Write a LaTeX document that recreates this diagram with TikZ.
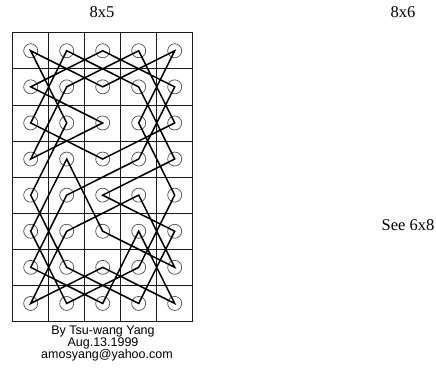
\documentclass[tikz,border=0pt]{standalone}
\usepackage{fontspec}
\setmainfont{Liberation Serif}
\newfontfamily\credfont{Liberation Sans}
\usetikzlibrary{positioning}

\begin{document}
\begin{tikzpicture}[
  x=1pt, y=-1pt,
  cell/.style={draw=black!90, line width=0.8pt, minimum width=36pt,
               minimum height=36.1pt, inner sep=0pt},
  ring/.style={draw=black!70, circle, line width=0.7pt, minimum size=14pt, inner sep=0pt},
  tour/.style={line width=1.5pt, miter limit=4},
  title/.style={font=\fontsize{16.5}{18}\selectfont},
  cred/.style={font=\credfont\fontsize{12.5}{13}\selectfont, inner sep=0pt}
]
\useasboundingbox (0,0) rectangle (436,369);

% board 5 x 8
\foreach \c in {1,...,5}
  \foreach \r in {1,...,8} {
    \node[cell] (s-\c-\r) at ({30.7+36*(\c-1)}, {50.75+36.1*(\r-1)}) {};
    \node[ring] (c-\c-\r) at (s-\c-\r) {};
  }

\node[title] (t85) at (102,12) {8x5};
\node[title] (t86) at (403,12) {8x6};
\node[title] (see) at (408,225) {See 6x8};

\node[cred] (by) at (103,331) {By Tsu-wang Yang};
\node[cred, below=0.5pt of by] (date) {Aug.13.1999};
\node[cred, below=0.5pt of date, xshift=4pt] (mail) {amosyang@yahoo.com};

% knight's tour
\draw[tour] (c-1-1.center) -- (c-3-2.center) -- (c-5-1.center) -- (c-4-3.center)
  -- (c-5-5.center) -- (c-4-7.center) -- (c-2-8.center) -- (c-1-6.center)
  -- (c-2-4.center) -- (c-3-6.center) -- (c-5-7.center) -- (c-4-5.center)
  -- (c-2-6.center) -- (c-1-8.center) -- (c-3-7.center) -- (c-5-8.center)
  -- (c-4-6.center) -- (c-3-8.center) -- (c-1-7.center) -- (c-2-5.center)
  -- (c-4-4.center) -- (c-5-2.center) -- (c-3-1.center) -- (c-1-2.center)
  -- (c-3-3.center) -- (c-1-4.center) -- (c-2-2.center) -- (c-4-1.center)
  -- (c-5-3.center) -- (c-3-4.center) -- (c-1-3.center) -- (c-2-1.center)
  -- (c-4-2.center) -- (c-5-4.center) -- (c-3-5.center) -- (c-5-6.center)
  -- (c-4-8.center) -- (c-2-7.center) -- (c-1-5.center) -- (c-2-3.center) -- cycle;
\end{tikzpicture}
\end{document}
